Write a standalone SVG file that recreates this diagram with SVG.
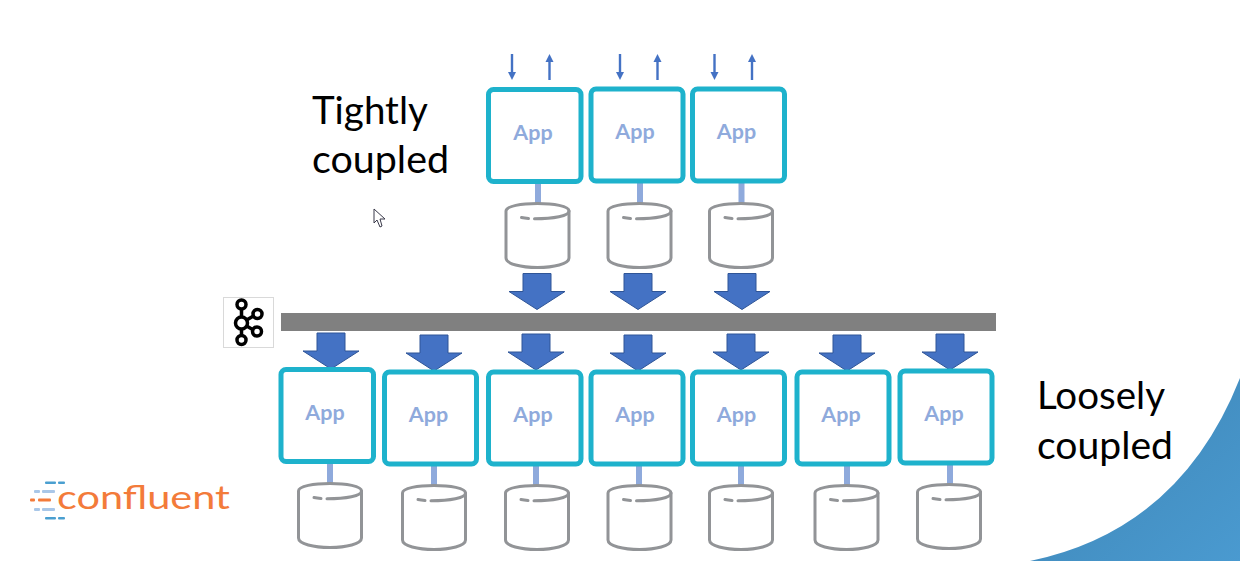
<svg xmlns="http://www.w3.org/2000/svg" width="1240" height="561" viewBox="0 0 1240 561">
<style>
.box{fill:#fff;stroke:#1eb2cc;stroke-width:5}
.app{font:bold 21.500px Lato,"Liberation Sans",sans-serif;fill:#8faadc;text-anchor:middle}
.big{font:38.500px Lato,"Open Sans",sans-serif;fill:#000}
.link{stroke:#8faadc;stroke-width:6;fill:none}
.cyl{fill:#fff;stroke:#929497;stroke-width:3}
.cyl2{fill:none;stroke:#929497;stroke-width:3;stroke-linecap:round}
.blk{fill:#4472c4;stroke:#2f5597;stroke-width:1}
.thin{stroke:#4472c4;stroke-width:2.400;fill:none}
.tip{fill:#4472c4}
.ka{fill:none;stroke:#000;stroke-width:3.500}
</style>
<defs>
<linearGradient id="sw" x1="0" y1="0" x2="1" y2="1"><stop offset="0" stop-color="#3d84b4"/><stop offset="1" stop-color="#4a9ad0"/></linearGradient>
<g id="cyl">
<path class="cyl" d="M-31.500 9V56C-31.500 62 -16 65.500 0 65.500S31.500 62 31.500 56V9C31.500 4 16 1.500 0 1.500S-31.500 4 -31.500 9Z"/>
<path class="cyl2" d="M-16 15.500C-13.500 16 -11 16.300 -9 16.500M-3 16.800C16 16.800 31.500 14 31.500 9"/>
</g>
<path id="blk" class="blk" d="M-14 0H14V18H28L0 36L-28 18H-14Z"/>
<g id="down"><path class="thin" d="M0 0V20"/><path class="tip" d="M-4 18H4L0 26Z"/></g>
<g id="up"><path class="thin" d="M0 26V6"/><path class="tip" d="M-4 8H4L0 0Z"/></g>
</defs>
<rect width="1240" height="561" fill="#fff"/>
<path id="swoosh" d="M1030 561Q1180 530 1240 378V561Z" fill="url(#sw)"/>
<rect id="bar" x="281" y="313" width="715" height="18" fill="#808080"/>
<g id="connectors">
<path class="link" d="M538 184V204M640 183V203M741.500 183V203M330 464V484M434 466V486M536 466V486M639 466V486M741 466V486M847 466V486M950 465V485"/>
<use href="#blk" x="537" y="273.500"/><use href="#blk" x="638" y="273.500"/><use href="#blk" x="742" y="273.500"/>
<use href="#blk" x="331" y="333"/><use href="#blk" x="434" y="335"/><use href="#blk" x="536" y="334"/><use href="#blk" x="638" y="335"/><use href="#blk" x="741" y="334"/><use href="#blk" x="847" y="335"/><use href="#blk" x="950" y="334"/>
<use href="#down" x="512" y="54"/><use href="#up" x="549.500" y="54"/>
<use href="#down" x="620" y="54"/><use href="#up" x="657.500" y="54"/>
<use href="#down" x="714.500" y="54"/><use href="#up" x="752" y="54"/>
</g>
<g id="top1"><rect class="box" x="488.500" y="89.500" width="92.500" height="92" rx="5"/><text class="app" x="533" y="140">App</text><use href="#cyl" x="537.500" y="202"/></g>
<g id="top2"><rect class="box" x="591" y="89" width="92" height="92" rx="5"/><text class="app" x="635" y="139">App</text><use href="#cyl" x="639.500" y="202"/></g>
<g id="top3"><rect class="box" x="692.500" y="89" width="92" height="92" rx="5"/><text class="app" x="736.500" y="139">App</text><use href="#cyl" x="741" y="202"/></g>
<g id="bot1"><rect class="box" x="281" y="369.500" width="92.500" height="92" rx="5"/><text class="app" x="325" y="420">App</text><use href="#cyl" x="330" y="482"/></g>
<g id="bot2"><rect class="box" x="384.500" y="372" width="92" height="92" rx="5"/><text class="app" x="428.500" y="422">App</text><use href="#cyl" x="434" y="484"/></g>
<g id="bot3"><rect class="box" x="488.500" y="372" width="92.500" height="92" rx="5"/><text class="app" x="533" y="422">App</text><use href="#cyl" x="537" y="484"/></g>
<g id="bot4"><rect class="box" x="591" y="372" width="92" height="92" rx="5"/><text class="app" x="635" y="422">App</text><use href="#cyl" x="639.500" y="484"/></g>
<g id="bot5"><rect class="box" x="692.500" y="372" width="92" height="92" rx="5"/><text class="app" x="736.500" y="422">App</text><use href="#cyl" x="741" y="484"/></g>
<g id="bot6"><rect class="box" x="797" y="372" width="92" height="92" rx="5"/><text class="app" x="841" y="422">App</text><use href="#cyl" x="846.500" y="484"/></g>
<g id="bot7"><rect class="box" x="900" y="371" width="92" height="92" rx="5"/><text class="app" x="944" y="421">App</text><use href="#cyl" x="949" y="483"/></g>
<g id="kafka">
<rect x="223.500" y="297.500" width="50" height="50" fill="#fff" stroke="#d9d9d9"/>
<path class="ka" d="M241.500 310V337M241.500 323L257 314M241.500 323L257 332"/>
<g fill="#fff" stroke="#000" stroke-width="3.500"><circle cx="241.500" cy="304.500" r="4.500"/><circle cx="241.500" cy="323" r="6"/><circle cx="241.500" cy="340" r="4.500"/><circle cx="257.500" cy="314" r="4.500"/><circle cx="257" cy="331.500" r="4.500"/></g>
</g>
<g id="tight"><text class="big" x="312" y="124">Tightly</text><text class="big" x="312" y="173" textLength="137" lengthAdjust="spacingAndGlyphs">coupled</text></g>
<g id="loose"><text class="big" x="1037" y="409" textLength="128" lengthAdjust="spacingAndGlyphs">Loosely</text><text class="big" x="1037" y="459" textLength="136" lengthAdjust="spacingAndGlyphs">coupled</text></g>
<polygon id="cursor" points="374,209 374,223 377,220 380,227 382,226 380,219 385,219" fill="#fff" stroke="#3a3a4a" stroke-width="1"/>
<g id="logo">
<g fill="#4a9fd0"><rect x="45" y="481.500" width="11" height="2.500" rx="1"/><rect x="58" y="481.500" width="7" height="2.500" rx="1"/><rect x="45" y="517" width="11" height="2.500" rx="1"/><rect x="58" y="517" width="7" height="2.500" rx="1"/></g>
<g fill="#a9c7e8"><rect x="34" y="490" width="6" height="3" rx="1"/><rect x="42" y="490" width="13" height="3" rx="1"/><rect x="34" y="508" width="6" height="3" rx="1"/><rect x="42" y="508" width="13" height="3" rx="1"/></g>
<g fill="#f37b3a"><rect x="30" y="498.500" width="5" height="3" rx="1"/><rect x="38" y="498.500" width="13" height="3" rx="1"/></g>
<text x="57" y="509" font-family="Lato,'Open Sans',sans-serif" font-size="33" textLength="173" lengthAdjust="spacingAndGlyphs" fill="#f37b3a">confluent</text>
</g>
</svg>
